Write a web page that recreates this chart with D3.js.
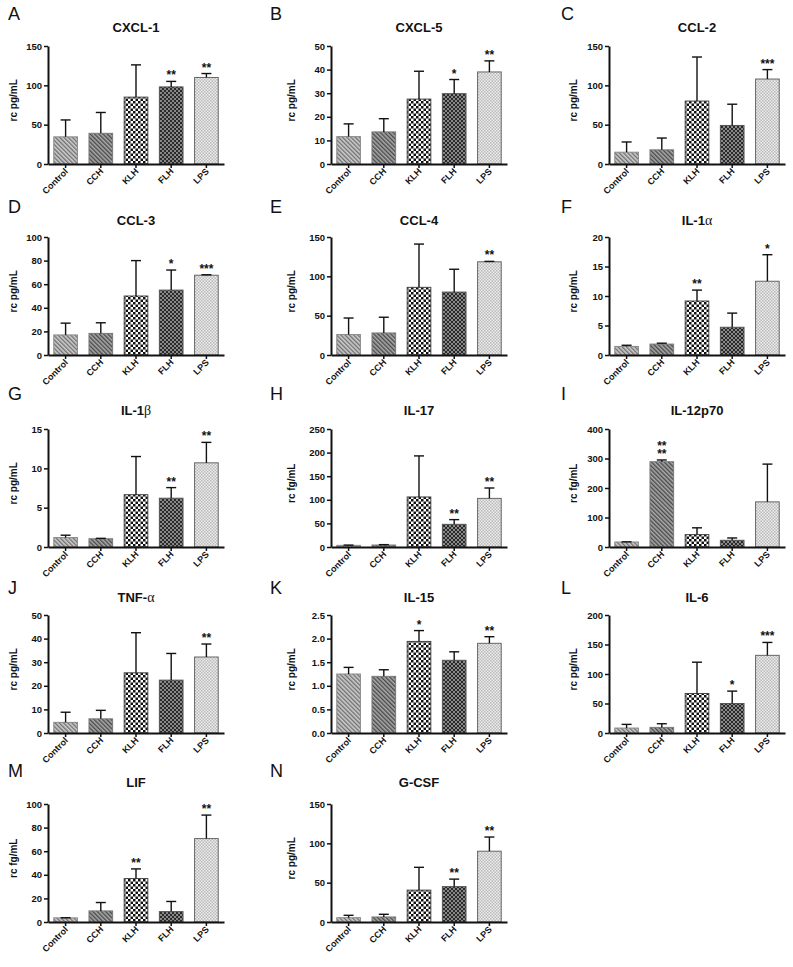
<!DOCTYPE html>
<html><head><meta charset="utf-8">
<script src="https://cdn.jsdelivr.net/npm/d3@7"></script>
<style>body{margin:0;background:#fff}svg{display:block}</style>
</head><body><svg id="c" width="793" height="967"></svg>
<script>
const categories = ["Control","CCH","KLH","FLH","LPS"];
const panelLabels = ["A","B","C","D","E","F","G","H","I","J","K","L","M","N"];
const titles = ["CXCL-1","CXCL-5","CCL-2","CCL-3","CCL-4","IL-1α","IL-1β","IL-17","IL-12p70","TNF-α","IL-15","IL-6","LIF","G-CSF"];
const units = ["rc pg/mL","rc pg/mL","rc pg/mL","rc pg/mL","rc pg/mL","rc pg/mL","rc pg/mL","rc fg/mL","rc fg/mL","rc pg/mL","rc pg/mL","rc pg/mL","rc fg/mL","rc pg/mL"];
const yMax = [150,50,150,100,150,20,15,250,400,50,2.5,200,100,150];
const yStep = [50,10,50,20,50,5,5,50,100,10,0.5,50,20,50];
const means = [
  [34.5,39,85,98,110],
  [11.6,13.6,27.5,29.8,39],
  [15,18,80,49,108],
  [17,18.3,50,55,67.6],
  [26,28,86,80,118.5],
  [1.45,1.85,9.15,4.7,12.5],
  [1.2,1.05,6.65,6.2,10.7],
  [3.5,4.2,106,48,103],
  [17,289,42,22.7,153],
  [4.5,6,25.5,22.4,32.2],
  [1.25,1.2,1.94,1.54,1.9],
  [8.4,9.5,67,50,131.6],
  [3.5,9.4,36.8,8.8,70.7],
  [5.5,6.4,40.5,45,90]
];
const sems = [
  [21.5,26.5,41,7,5],
  [5.4,5.6,11.8,6,4.7],
  [13,15,56,27,12],
  [10,9,30,17,0.4],
  [21,20,55,29,0.5],
  [0.2,0.15,1.85,2.4,4.5],
  [0.3,0.05,4.85,1.35,2.6],
  [0.5,0.8,87,10,22],
  [0.5,6,23,7.9,128],
  [4.3,3.6,17,11.3,5.5],
  [0.14,0.14,0.23,0.18,0.14],
  [6.2,6.2,53,21,21.9],
  [0.1,7.1,8.2,8.6,19.9],
  [3,3.4,29,9.5,18]
];
const sig = [
  ["","","","**","**"],
  ["","","","*","**"],
  ["","","","","***"],
  ["","","","*","***"],
  ["","","","","**"],
  ["","","**","","*"],
  ["","","","**","**"],
  ["","","","**","**"],
  ["","**/**","","",""],
  ["","","","","**"],
  ["","","*","","**"],
  ["","","","*","***"],
  ["","","**","","**"],
  ["","","","**","**"]
];

// layout
const colAxisX = [48, 331, 609];
const colLabelX = [8, 270, 561];
const colYLabelX = [13, 291, 573];
const rowTop = [46, 237, 429, 615, 804];
const rowTitleY = [32, 225, 415, 602, 787];
const rowLabelY = [20, 213, 400, 594, 777];
const axisW = 176, axisH = 118;
const SANS = "'Liberation Sans', Arial, Helvetica, sans-serif";
const SERIF = "'Liberation Serif', 'DejaVu Serif', serif";

const svg = d3.select("#c");
const defs = svg.append("defs");

function stripe(id, bg, fg, size, w){
  const p = defs.append("pattern").attr("id", id).attr("patternUnits","userSpaceOnUse")
    .attr("width", size).attr("height", size).attr("patternTransform","rotate(-45)");
  p.append("rect").attr("width", size).attr("height", size).attr("fill", bg);
  p.append("rect").attr("width", w).attr("height", size).attr("fill", fg);
}
function checker(id, bg, fg, cell){
  const p = defs.append("pattern").attr("id", id).attr("patternUnits","userSpaceOnUse")
    .attr("width", cell*2).attr("height", cell*2);
  p.append("rect").attr("width", cell*2).attr("height", cell*2).attr("fill", bg);
  p.append("rect").attr("width", cell).attr("height", cell).attr("fill", fg);
  p.append("rect").attr("x", cell).attr("y", cell).attr("width", cell).attr("height", cell).attr("fill", fg);
}
stripe("pControl", "#cccccc", "#6e6e6e", 3, 1.3);
stripe("pCCH", "#aaaaaa", "#4a4a4a", 3, 1.4);
checker("pKLH", "#ffffff", "#111111", 2.5);
checker("pFLH", "#888888", "#2a2a2a", 2);
checker("pLPS", "#ececec", "#bbbbbb", 1.5);
const fills = ["url(#pControl)","url(#pCCH)","url(#pKLH)","url(#pFLH)","url(#pLPS)"];
const strokes = ["#8a8a8a","#7a7a7a","#444","#555","#666"];

titles.forEach((title, i) => {
  const row = Math.floor(i/3), col = i%3;
  const ax = colAxisX[col], top = rowTop[row];
  const g = svg.append("g");

  const x = d3.scaleBand().domain(categories).range([0, axisW]).paddingInner(0.3).paddingOuter(0.15);
  const y = d3.scaleLinear().domain([0, yMax[i]]).range([axisH, 0]);
  const tv = d3.range(0, yMax[i] + yStep[i]/2, yStep[i]);
  const fmt = yStep[i] < 1 ? d3.format(".1f") : d3.format("d");

  // panel letter
  g.append("text").attr("x", colLabelX[col]).attr("y", rowLabelY[row])
    .attr("font-family", SANS).attr("font-size", 18).attr("fill", "#111").text(panelLabels[i]);

  // title
  const t = g.append("text").attr("x", ax + axisW/2).attr("y", rowTitleY[row])
    .attr("text-anchor", "middle").attr("font-family", SANS).attr("font-size", 13)
    .attr("font-weight", "bold").attr("fill", "#111");
  title.split(/([α-ω])/).filter(s => s.length).forEach(s => {
    const sp = t.append("tspan").text(s);
    if (/[α-ω]/.test(s)) sp.attr("font-family", SERIF).attr("font-weight", "normal").attr("font-size", 14);
  });

  // y label
  g.append("text").attr("transform", `translate(${colYLabelX[col]},${top + axisH*0.46}) rotate(-90)`)
    .attr("text-anchor", "middle").attr("dy", "0.35em").attr("font-family", SANS)
    .attr("font-size", 10).attr("font-weight", "bold").attr("fill", "#111").text(units[i]);

  const plot = g.append("g").attr("transform", `translate(${ax},${top})`);

  // bars
  plot.selectAll("rect.bar").data(categories).join("rect").attr("class","bar")
    .attr("x", d => x(d) + 0.5).attr("width", x.bandwidth() - 1)
    .attr("y", (d, k) => y(means[i][k])).attr("height", (d, k) => axisH - y(means[i][k]))
    .attr("fill", (d, k) => fills[k]).attr("stroke", (d, k) => strokes[k]).attr("stroke-width", 1);

  // error bars + significance
  categories.forEach((c, k) => {
    const cx = x(c) + x.bandwidth()/2;
    const hi = y(means[i][k] + sems[i][k]);
    plot.append("line").attr("x1", cx).attr("x2", cx).attr("y1", y(means[i][k])).attr("y2", hi)
      .attr("stroke", "#111").attr("stroke-width", 1.4);
    plot.append("line").attr("x1", cx - 5).attr("x2", cx + 5).attr("y1", hi).attr("y2", hi)
      .attr("stroke", "#111").attr("stroke-width", 1.4);
    const s = sig[i][k];
    if (s) {
      const parts = s.split("/");
      const st = plot.append("text").attr("text-anchor", "middle").attr("font-family", SANS)
        .attr("font-size", 12).attr("font-weight", "bold").attr("fill", "#111");
      parts.forEach((p, j) => {
        st.append("tspan").attr("x", cx).attr("y", hi - 2 - (parts.length - 1 - j) * 7.5).text(p);
      });
    }
  });

  // axes
  const yAx = plot.append("g").call(d3.axisLeft(y).tickValues(tv).tickFormat(fmt).tickSize(4).tickSizeOuter(0).tickPadding(2));
  const xAx = plot.append("g").attr("transform", `translate(0,${axisH})`)
    .call(d3.axisBottom(x).tickSize(4).tickSizeOuter(0).tickPadding(2));
  [yAx, xAx].forEach(a => {
    a.select(".domain").attr("stroke", "#111").attr("stroke-width", 2);
    a.selectAll(".tick line").attr("stroke", "#111").attr("stroke-width", 1.5);
    a.selectAll("text").attr("font-family", SANS).attr("font-weight", "bold").attr("fill", "#111");
  });
  yAx.selectAll("text").attr("font-size", 9.5);
  xAx.selectAll("text").attr("font-size", 9).attr("text-anchor", "end")
    .attr("dy", null).attr("y", null)
    .attr("transform", "translate(3,8) rotate(-45)");
});
</script></body></html>
